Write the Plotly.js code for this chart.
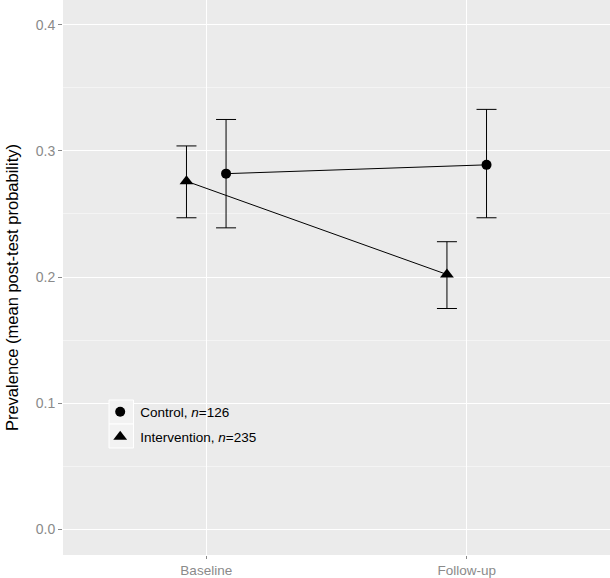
<!DOCTYPE html>
<html>
<head>
<meta charset="utf-8">
<script src="https://cdn.plot.ly/plotly-3.0.1.min.js"></script>
<style>html,body{margin:0;padding:0;background:#fff;}#chart{width:610px;height:578px;}</style>
</head>
<body>
<div id="chart"></div>
<script>
var categories = ['Baseline', 'Follow-up'];
var controlMean = [0.282, 0.289];
var controlLower = [0.239, 0.247];
var controlUpper = [0.325, 0.333];
var interventionMean = [0.276, 0.202];
var interventionLower = [0.247, 0.175];
var interventionUpper = [0.304, 0.228];
var controlLabel = 'Control, <i>n</i>=126';
var interventionLabel = 'Intervention, <i>n</i>=235';
var yTicks = [0.0, 0.1, 0.2, 0.3, 0.4];
var yTickText = ['0.0', '0.1', '0.2', '0.3', '0.4'];
var yTitle = 'Prevalence (mean post-test probability)';

var dodge = 0.076;
var idx = categories.map(function (c, i) { return i + 1; });
var xControl = idx.map(function (v) { return v + dodge; });
var xInterv = idx.map(function (v) { return v - dodge; });

function plus(m, u) { return u.map(function (v, i) { return v - m[i]; }); }
function minus(m, l) { return l.map(function (v, i) { return m[i] - v; }); }

var traces = [
  { x: xControl, y: controlMean, type: 'scatter', mode: 'lines', line: { color: '#000', width: 1 }, showlegend: false, hoverinfo: 'skip' },
  { x: xInterv, y: interventionMean, type: 'scatter', mode: 'lines', line: { color: '#000', width: 1 }, showlegend: false, hoverinfo: 'skip' },
  { x: xControl, y: controlMean, type: 'scatter', mode: 'markers', name: controlLabel, legend: 'legend',
    marker: { symbol: 'circle', size: 10, color: '#000' },
    error_y: { type: 'data', array: plus(controlMean, controlUpper), arrayminus: minus(controlMean, controlLower), color: '#000', thickness: 1, width: 10 } },
  { x: xInterv, y: interventionMean, type: 'scatter', mode: 'markers', name: interventionLabel, legend: 'legend2',
    marker: { symbol: 'triangle-up', size: 12, color: '#000' },
    error_y: { type: 'data', array: plus(interventionMean, interventionUpper), arrayminus: minus(interventionMean, interventionLower), color: '#000', thickness: 1, width: 10 } }
];

var font = 'Liberation Sans, Arial, sans-serif';
var legendBase = { bgcolor: 'rgba(0,0,0,0)', font: { family: font, size: 13.5, color: '#000' }, xanchor: 'left', yanchor: 'middle', x: 0.068 };

var layout = {
  width: 610, height: 578,
  margin: { l: 63, r: 0, t: 0, b: 23 },
  paper_bgcolor: '#fff',
  plot_bgcolor: '#EBEBEB',
  font: { family: font },
  xaxis: {
    range: [0.45, 2.55], tickvals: idx, ticktext: categories,
    showgrid: true, gridcolor: '#fff', gridwidth: 1, zeroline: false,
    ticks: 'outside', ticklen: 3, tickcolor: '#8a8a8a', tickwidth: 1,
    tickfont: { family: font, size: 13.5, color: '#8a8a8a' }, showline: false, fixedrange: true
  },
  yaxis: {
    range: [-0.0206, 0.4198], tickvals: yTicks, ticktext: yTickText,
    showgrid: true, gridcolor: '#fff', gridwidth: 1, zeroline: false,
    minor: { dtick: 0.05, tick0: 0.05, showgrid: true, gridcolor: '#F4F4F4', gridwidth: 1, ticks: '' },
    ticks: 'outside', ticklen: 4, tickcolor: '#8a8a8a', tickwidth: 1,
    tickfont: { family: font, size: 14, color: '#8a8a8a' },
    showline: false, fixedrange: true
  },
  annotations: [
    { text: yTitle, textangle: -90, xref: 'paper', yref: 'paper', x: -0.0932, y: 0.481,
      xanchor: 'center', yanchor: 'middle', showarrow: false, font: { family: font, size: 16.5, color: '#000' } }
  ],
  shapes: [
    { type: 'rect', xref: 'paper', yref: 'paper', x0: 0.0841, x1: 0.1289, y0: 0.236, y1: 0.2793, fillcolor: '#F2F2F2', line: { color: '#fff', width: 1 }, layer: 'above' },
    { type: 'rect', xref: 'paper', yref: 'paper', x0: 0.0841, x1: 0.1289, y0: 0.1928, y1: 0.236, fillcolor: '#F2F2F2', line: { color: '#fff', width: 1 }, layer: 'above' }
  ],
  legend: Object.assign({}, legendBase, { y: 0.2577 }),
  legend2: Object.assign({}, legendBase, { y: 0.2126 }),
  showlegend: true
};

Plotly.newPlot('chart', traces, layout, { displayModeBar: false, staticPlot: true });
</script>
</body>
</html>
